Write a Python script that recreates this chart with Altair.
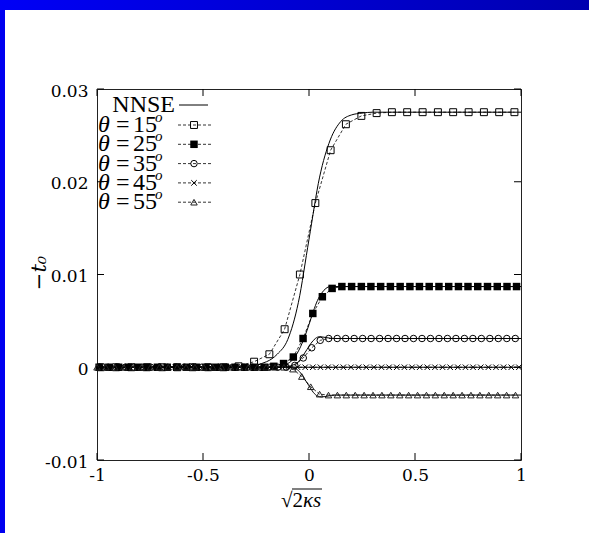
import altair as alt
import pandas as pd

# ---------------- data ----------------
x_ticks = [-1, -0.5, 0, 0.5, 1]
y_ticks = [-0.01, 0, 0.01, 0.02, 0.03]

# NNSE reference solutions (solid lines)
nnse15_x = [-1.0, -0.30, -0.20, -0.15, -0.10, -0.05, 0.00, 0.05, 0.10, 0.15, 0.20, 0.25, 0.30, 1.0]
nnse15_y = [0.0, 0.0001, 0.0006, 0.0014, 0.0030, 0.0070, 0.0138, 0.0205, 0.0245, 0.0265, 0.0272, 0.0274, 0.0275, 0.0275]
nnse25_x = [-1.0, -0.20, -0.15, -0.10, -0.07, -0.04, -0.02, 0.00, 0.02, 0.04, 0.06, 0.08, 0.10, 0.15, 1.0]
nnse25_y = [0.0, 0.0, 0.0001, 0.0004, 0.0010, 0.0022, 0.0033, 0.0046, 0.0060, 0.0072, 0.0080, 0.0085, 0.0087, 0.0087, 0.0087]
nnse35_x = [-1.0, -0.12, -0.08, -0.05, -0.03, -0.01, 0.01, 0.03, 0.05, 0.08, 0.12, 1.0]
nnse35_y = [0.0, 0.0, 0.0002, 0.0006, 0.0012, 0.0019, 0.0026, 0.0031, 0.0033, 0.0032, 0.0031, 0.0031]
nnse45_x = [-1.0, 1.0]
nnse45_y = [0.0, 0.0]
nnse55_x = [-1.0, -0.10, -0.06, -0.04, -0.02, 0.00, 0.02, 0.04, 0.06, 0.09, 0.12, 1.0]
nnse55_y = [0.0, 0.0, -0.0002, -0.0006, -0.0013, -0.0020, -0.0027, -0.0031, -0.0032, -0.0031, -0.0030, -0.0030]

# theta = 15 (open squares)
s15_x = [-0.982, -0.910, -0.838, -0.766, -0.693, -0.621, -0.549, -0.476, -0.404, -0.332,
         -0.259, -0.187, -0.115, -0.043, 0.030, 0.102, 0.174, 0.247, 0.319,
         0.391, 0.463, 0.536, 0.608, 0.680, 0.753, 0.825, 0.897, 0.969]
s15_y = [0.0, 0.0, 0.0, 0.0, 0.0, 0.0, 0.0, 0.0, 0.0, 0.0001,
         0.0006, 0.0014, 0.0041, 0.0100, 0.0177, 0.0234, 0.0262, 0.0271, 0.0274,
         0.0275, 0.0275, 0.0275, 0.0275, 0.0275, 0.0275, 0.0275, 0.0275, 0.0275]

# theta = 25 (filled squares)
s25_x = [-0.990, -0.944, -0.898, -0.852, -0.807, -0.761, -0.715, -0.669, -0.624, -0.578,
         -0.532, -0.486, -0.440, -0.395, -0.349, -0.303, -0.257, -0.211,
         -0.166, -0.120, -0.074, -0.028, 0.018, 0.063, 0.109, 0.155,
         0.201, 0.247, 0.292, 0.338, 0.384, 0.430, 0.476, 0.521, 0.567,
         0.613, 0.659, 0.705, 0.750, 0.796, 0.842, 0.888, 0.934, 0.979]
s25_y = [0.0, 0.0, 0.0, 0.0, 0.0, 0.0, 0.0, 0.0, 0.0, 0.0,
         0.0, 0.0, 0.0, 0.0, 0.0, 0.0, 0.0, 0.0,
         0.0001, 0.0004, 0.0011, 0.0031, 0.0058, 0.0076, 0.0085, 0.0087,
         0.0087, 0.0087, 0.0087, 0.0087, 0.0087, 0.0087, 0.0087, 0.0087, 0.0087,
         0.0087, 0.0087, 0.0087, 0.0087, 0.0087, 0.0087, 0.0087, 0.0087, 0.0087]

# theta = 35 (open circles)
s35_x = [-0.987, -0.947, -0.907, -0.867, -0.827, -0.787, -0.747, -0.707, -0.667, -0.627,
         -0.587, -0.547, -0.507, -0.467, -0.427, -0.387, -0.347, -0.307, -0.267, -0.227,
         -0.187, -0.147, -0.107, -0.067, -0.027, 0.013, 0.053, 0.093, 0.133, 0.173,
         0.213, 0.253, 0.293, 0.333, 0.373, 0.413, 0.453, 0.493, 0.533, 0.573,
         0.613, 0.653, 0.693, 0.733, 0.773, 0.813, 0.853, 0.893, 0.933, 0.973]
s35_y = [0.0, 0.0, 0.0, 0.0, 0.0, 0.0, 0.0, 0.0, 0.0, 0.0,
         0.0, 0.0, 0.0, 0.0, 0.0, 0.0, 0.0, 0.0, 0.0, 0.0,
         0.0, 0.0, 0.0, 0.0002, 0.0010, 0.0021, 0.0029, 0.0031, 0.0031, 0.0031,
         0.0031, 0.0031, 0.0031, 0.0031, 0.0031, 0.0031, 0.0031, 0.0031, 0.0031, 0.0031,
         0.0031, 0.0031, 0.0031, 0.0031, 0.0031, 0.0031, 0.0031, 0.0031, 0.0031, 0.0031]

# theta = 45 (crosses)
s45_x = [-0.990, -0.954, -0.918, -0.882, -0.846, -0.810, -0.774, -0.738, -0.702, -0.666,
         -0.630, -0.594, -0.558, -0.522, -0.486, -0.450, -0.414, -0.378, -0.342, -0.306,
         -0.270, -0.234, -0.198, -0.162, -0.126, -0.090, -0.054, -0.018, 0.018, 0.054,
         0.090, 0.126, 0.162, 0.198, 0.234, 0.270, 0.306, 0.342, 0.378, 0.414,
         0.450, 0.486, 0.522, 0.558, 0.594, 0.630, 0.666, 0.702, 0.738, 0.774,
         0.810, 0.846, 0.882, 0.918, 0.954, 0.990]
s45_y = [0.0, 0.0, 0.0, 0.0, 0.0, 0.0, 0.0, 0.0, 0.0, 0.0,
         0.0, 0.0, 0.0, 0.0, 0.0, 0.0, 0.0, 0.0, 0.0, 0.0,
         0.0, 0.0, 0.0, 0.0, 0.0, 0.0, 0.0, 0.0, 0.0, 0.0,
         0.0, 0.0, 0.0, 0.0, 0.0, 0.0, 0.0, 0.0, 0.0, 0.0,
         0.0, 0.0, 0.0, 0.0, 0.0, 0.0, 0.0, 0.0, 0.0, 0.0,
         0.0, 0.0, 0.0, 0.0, 0.0, 0.0]

# theta = 55 (open triangles)
s55_x = [-1.000, -0.958, -0.916, -0.874, -0.832, -0.790, -0.748, -0.706, -0.664, -0.622,
         -0.580, -0.538, -0.496, -0.454, -0.412, -0.370, -0.328, -0.286, -0.244, -0.202,
         -0.160, -0.118, -0.076, -0.034, 0.008, 0.050, 0.092, 0.134, 0.176, 0.218,
         0.260, 0.302, 0.344, 0.386, 0.428, 0.470, 0.512, 0.554, 0.596, 0.638,
         0.680, 0.722, 0.764, 0.806, 0.848, 0.890, 0.932, 0.974]
s55_y = [0.0, 0.0, 0.0, 0.0, 0.0, 0.0, 0.0, 0.0, 0.0, 0.0,
         0.0, 0.0, 0.0, 0.0, 0.0, 0.0, 0.0, 0.0, 0.0, 0.0,
         0.0, 0.0, -0.0002, -0.0010, -0.0021, -0.0029, -0.0030, -0.0030, -0.0030, -0.0030,
         -0.0030, -0.0030, -0.0030, -0.0030, -0.0030, -0.0030, -0.0030, -0.0030, -0.0030, -0.0030,
         -0.0030, -0.0030, -0.0030, -0.0030, -0.0030, -0.0030, -0.0030, -0.0030]

legend_nnse = "NNSE"
theta_values = ["15", "25", "35", "45", "55"]

# ---------------- layout / style ----------------
W, H = 424, 371
PAD = {"left": 97, "top": 89, "right": 68, "bottom": 73}
TICK_FONT = "DejaVu Serif"
LEG_FONT = "Liberation Serif"
X_SHAPE = "M-1,-1L1,1M-1,1L1,-1"

xscale = alt.Scale(domain=[-1, 1], nice=False, zero=False)
yscale = alt.Scale(domain=[-0.01, 0.03], nice=False, zero=False)

x_axis = alt.Axis(values=x_ticks, ticks=False, domain=False, grid=False, title=None,
                  labelFont=TICK_FONT, labelFontSize=17, labelColor="black",
                  labelPadding=7, labelFlush=False,
                  labelExpr="datum.value < 0 ? '-' + format(-datum.value, '~g') : format(datum.value, '~g')")
y_axis = alt.Axis(values=y_ticks, ticks=False, domain=False, grid=False, title=None,
                  labelFont=TICK_FONT, labelFontSize=17, labelColor="black",
                  labelPadding=9, labelOffset=2,
                  labelExpr="abs(datum.value) < 1e-9 ? '0' : (datum.value < 0 ? '-' + format(-datum.value, '.2f') : format(datum.value, '.2f'))")


def X(field="x"):
    return alt.X(f"{field}:Q", scale=xscale, axis=x_axis)


def Y(field="y"):
    return alt.Y(f"{field}:Q", scale=yscale, axis=y_axis)


one = pd.DataFrame({"k": [1]})
layers = []


def txt(s, x, y, size=23, font=LEG_FONT, style="normal", align="left", angle=0):
    return alt.Chart(one).mark_text(font=font, fontSize=size, fontStyle=style, align=align,
                                    baseline="middle", color="black", angle=angle).encode(
        x=alt.value(x), y=alt.value(y), text=alt.value(s))


# blue frame of the slide
grad = alt.Gradient(gradient="linear", x1=0, x2=1, y1=0, y2=0,
                    stops=[alt.GradientStop(color="#0000f6", offset=0),
                           alt.GradientStop(color="#0000b0", offset=1)])
layers.append(alt.Chart(one).mark_rect(fill=grad).encode(
    x=alt.value(-PAD["left"]), x2=alt.value(W + PAD["right"]),
    y=alt.value(-PAD["top"]), y2=alt.value(-PAD["top"] + 10)))
layers.append(alt.Chart(one).mark_rect(color="#0000f0").encode(
    x=alt.value(-PAD["left"]), x2=alt.value(-PAD["left"] + 5),
    y=alt.value(-PAD["top"] + 10), y2=alt.value(H + PAD["bottom"])))

# NNSE solid lines
nnse = [(nnse15_x, nnse15_y, "15"), (nnse25_x, nnse25_y, "25"), (nnse35_x, nnse35_y, "35"),
        (nnse45_x, nnse45_y, "45"), (nnse55_x, nnse55_y, "55")]
nn_df = pd.concat([pd.DataFrame({"x": xs, "y": ys, "s": s}) for xs, ys, s in nnse])
layers.append(alt.Chart(nn_df).mark_line(color="black", strokeWidth=1, interpolate="monotone").encode(
    x=X(), y=Y(), detail="s:N"))

# simulated series: dashed line + markers
series = [
    (s15_x, s15_y, dict(shape="square", filled=False, size=48, stroke="black", strokeWidth=1, opacity=1)),
    (s25_x, s25_y, dict(shape="square", filled=True, size=56, color="black", opacity=1)),
    (s35_x, s35_y, dict(shape="circle", filled=False, size=42, stroke="black", strokeWidth=1, opacity=1)),
    (s45_x, s45_y, dict(shape=X_SHAPE, filled=False, size=30, stroke="black", strokeWidth=1, opacity=1)),
    (s55_x, s55_y, dict(shape="triangle-up", filled=False, size=42, stroke="#222", strokeWidth=1, opacity=1)),
]
for xs, ys, mk in series:
    df = pd.DataFrame({"x": xs, "y": ys})
    layers.append(alt.Chart(df).mark_line(color="black", strokeWidth=0.8, strokeDash=[3, 2]).encode(
        x=X(), y=Y()))
    layers.append(alt.Chart(df).mark_point(**mk).encode(x=X(), y=Y()))

# inward ticks on all four sides
xt = pd.DataFrame({"x": x_ticks})
yt = pd.DataFrame({"y": y_ticks})
layers.append(alt.Chart(xt).mark_rule(color="black", strokeWidth=1).encode(
    x=X(), y=alt.value(H), y2=alt.value(H - 7)))
layers.append(alt.Chart(xt).mark_rule(color="black", strokeWidth=1).encode(
    x=X(), y=alt.value(0), y2=alt.value(7)))
layers.append(alt.Chart(yt).mark_rule(color="black", strokeWidth=1).encode(
    y=Y(), x=alt.value(0), x2=alt.value(7)))
layers.append(alt.Chart(yt).mark_rule(color="black", strokeWidth=1).encode(
    y=Y(), x=alt.value(W), x2=alt.value(W - 7)))

# legend (top-left, inside the frame)
LEG_Y0 = 16
LEG_Y1 = 36
LEG_DY = 19.3
layers.append(txt(legend_nnse, 78, LEG_Y0, size=24, align="right"))
layers.append(alt.Chart(one).mark_rule(color="black", strokeWidth=1).encode(
    x=alt.value(82), x2=alt.value(111), y=alt.value(LEG_Y0)))
for i, (val, (xs, ys, mk)) in enumerate(zip(theta_values, series)):
    yy = LEG_Y1 + LEG_DY * i
    layers.append(txt("θ", 1, yy, size=24, style="italic"))
    layers.append(txt("=", 19, yy, size=24))
    layers.append(txt(val, 36, yy, size=24))
    layers.append(txt("o", 58, yy - 8, size=15, style="italic"))
    layers.append(alt.Chart(one).mark_rule(color="black", strokeWidth=0.8, strokeDash=[3, 2]).encode(
        x=alt.value(81), x2=alt.value(114), y=alt.value(yy)))
    layers.append(alt.Chart(one).mark_point(**mk).encode(x=alt.value(97), y=alt.value(yy)))

# axis titles
layers.append(txt("−t₀", -57, 184, size=21, font="DejaVu Serif", style="italic", align="center", angle=270))
layers.append(txt("√2", 184, 412, size=21, font=LEG_FONT, align="left"))
layers.append(txt("κs", 206, 412, size=21, font=LEG_FONT, style="italic", align="left"))
layers.append(alt.Chart(one).mark_rule(color="black", strokeWidth=1).encode(
    x=alt.value(195), x2=alt.value(225), y=alt.value(400)))

chart = alt.layer(*layers).properties(
    width=W, height=H, padding=PAD, autosize=alt.AutoSizeParams(type="none"), background="white"
).configure_view(stroke="#222", strokeWidth=1)

chart.save("out.html", embed_options={"renderer": "svg", "actions": False})
